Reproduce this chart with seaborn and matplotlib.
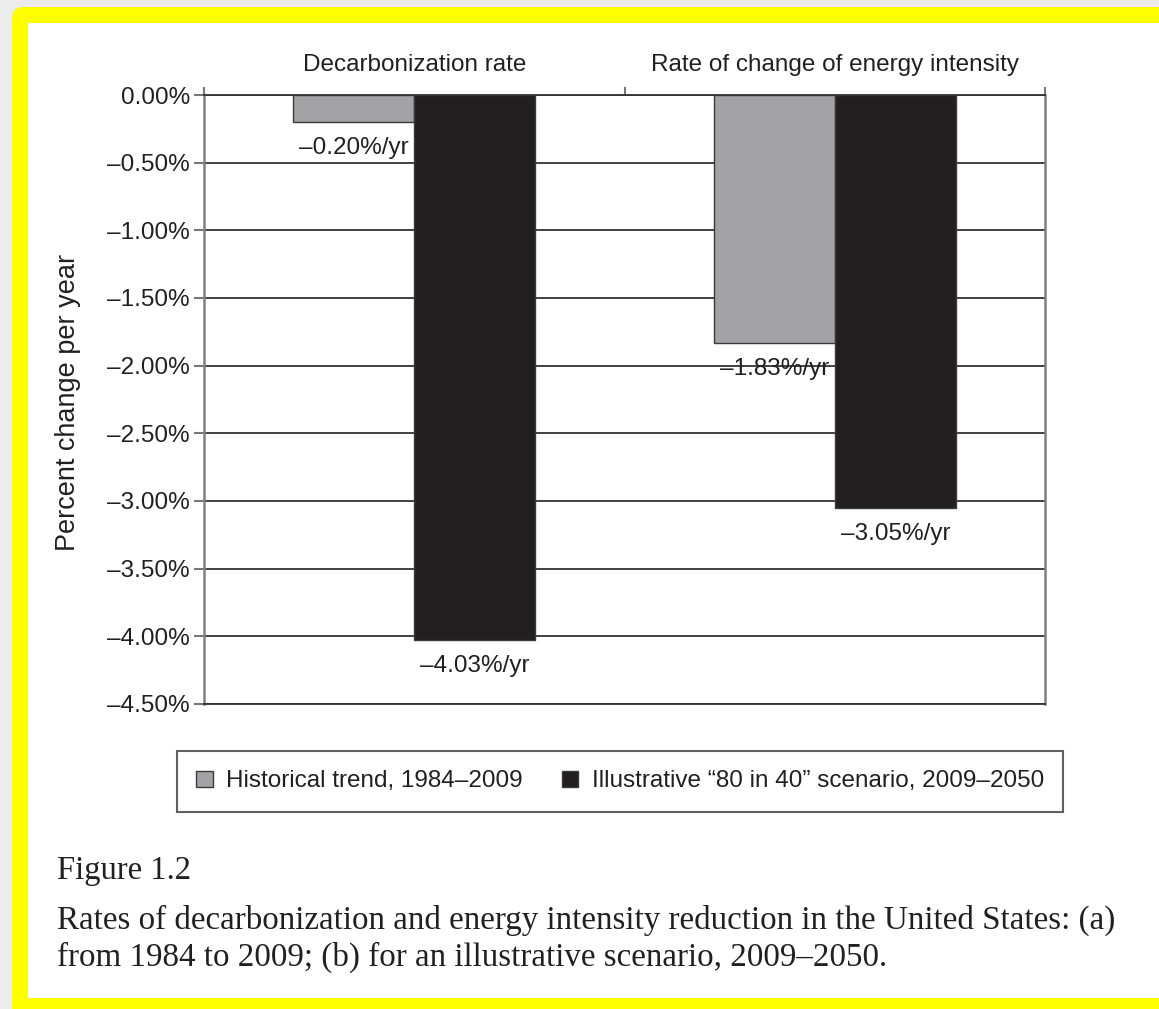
import numpy as np
import pandas as pd
import matplotlib
matplotlib.use("Agg")
import matplotlib.pyplot as plt
import seaborn as sns
from matplotlib.patches import FancyBboxPatch, Rectangle
from matplotlib.ticker import FixedLocator, FuncFormatter

# data
categories = ["Decarbonization rate", "Rate of change of energy intensity"]
series = ["Historical trend, 1984\u20132009", "Illustrative \u201c80 in 40\u201d scenario, 2009\u20132050"]
historical = [-0.20, -1.83]
scenario = [-4.03, -3.05]
yticks = [0.0, -0.5, -1.0, -1.5, -2.0, -2.5, -3.0, -3.5, -4.0, -4.5]

df = pd.DataFrame({
    "category": categories * 2,
    "series": [series[0]] * 2 + [series[1]] * 2,
    "value": historical + scenario,
})

sns.set_theme(style="white")
plt.rcParams["font.family"] = ["Liberation Sans", "DejaVu Sans"]
txt = "#231f20"

W, H = 1159, 1009
fig = plt.figure(figsize=(W / 100, H / 100), dpi=100)
fig.patch.set_facecolor("#ececec")

# page frame (yellow highlight + white page)
bg = fig.add_axes([0, 0, 1, 1], zorder=-5)
bg.set_xlim(0, W)
bg.set_ylim(H, 0)
bg.axis("off")
bg.add_patch(FancyBboxPatch((12, 7), W + 40, H + 40, boxstyle="round,pad=0,rounding_size=12",
                            facecolor="#ffff00", edgecolor="none"))
bg.add_patch(Rectangle((28, 23), W, 998 - 23, facecolor="white", edgecolor="none"))

ax = fig.add_axes([204 / W, 1 - 704 / H, (1045 - 204) / W, (704 - 95) / H])
ax.set_facecolor("white")

sns.barplot(data=df, x="category", y="value", hue="series", order=categories, hue_order=series,
            palette=["#a3a3a5", "#231f20"], width=0.576, saturation=1, edgecolor="#3a3a3a",
            linewidth=1.0, ax=ax, legend=True)

ax.set_xlim(-0.5, 1.5)
ax.set_ylim(-4.5, 0)
ax.set_axisbelow(True)
ax.yaxis.set_major_locator(FixedLocator(yticks))
ax.yaxis.set_major_formatter(FuncFormatter(
    lambda v, p: "0.00%" if abs(v) < 1e-9 else "\u2013%.2f%%" % abs(v)))
ax.yaxis.grid(True, color="#333333", linewidth=1.3)
ax.xaxis.grid(False)

ax.xaxis.set_ticks_position("top")
ax.xaxis.set_label_position("top")
ax.set_xticks([0, 1])
ax.set_xticklabels(categories)
ax.set_xticks([-0.5, 0.5, 1.5], minor=True)
ax.tick_params(axis="x", which="major", length=0, pad=14, labelsize=17.5, labelcolor=txt)
ax.tick_params(axis="x", which="minor", length=6, width=1.5, color="#777777", top=True)
ax.tick_params(axis="y", which="major", left=True, length=7, width=1.5, color="#777777",
               pad=3, labelsize=17.5, labelcolor=txt)
ax.set_xlabel("")
ax.set_ylabel("")

for side in ["left", "right"]:
    ax.spines[side].set_color("#808080")
    ax.spines[side].set_linewidth(1.8)
for side in ["top", "bottom"]:
    ax.spines[side].set_color("#333333")
    ax.spines[side].set_linewidth(1.3)

fig.text(68 / W, 1 - 402 / H, "Percent change per year", rotation=90, ha="center", va="center",
         fontsize=19.5, color=txt)

# value labels under each bar
for cont in ax.containers:
    for bar in cont:
        v = bar.get_height()
        ax.annotate("\u2013%.2f%%/yr" % abs(v), (bar.get_x() + bar.get_width() / 2, v),
                    xytext=(0, -26), textcoords="offset pixels", ha="center", va="center",
                    fontsize=17.5, color=txt, zorder=5)

handles, labels = ax.get_legend_handles_labels()
ax.get_legend().remove()
leg = fig.legend(handles, labels, loc="center", bbox_to_anchor=(620 / W, 1 - 781.5 / H), ncol=2,
                 frameon=True, fancybox=False, edgecolor="#3a3a3a", fontsize=17.5,
                 handlelength=0.68, handleheight=0.68, handletextpad=0.55, columnspacing=1.6,
                 borderpad=0.8)
leg.get_frame().set_linewidth(1.5)
for t in leg.get_texts():
    t.set_color(txt)

serif = ["Liberation Serif", "DejaVu Serif"]
fig.text(57 / W, 1 - 879 / H, "Figure 1.2", family=serif, fontsize=23.5, color=txt, va="baseline")
fig.text(57 / W, 1 - 929 / H,
         "Rates of decarbonization and energy intensity reduction in the United States: (a)",
         family=serif, fontsize=23.8, color=txt, va="baseline")
fig.text(57 / W, 1 - 966 / H, "from 1984 to 2009; (b) for an illustrative scenario, 2009\u20132050.",
         family=serif, fontsize=23.8, color=txt, va="baseline")

fig.savefig("out.png", dpi=100, facecolor=fig.get_facecolor())
